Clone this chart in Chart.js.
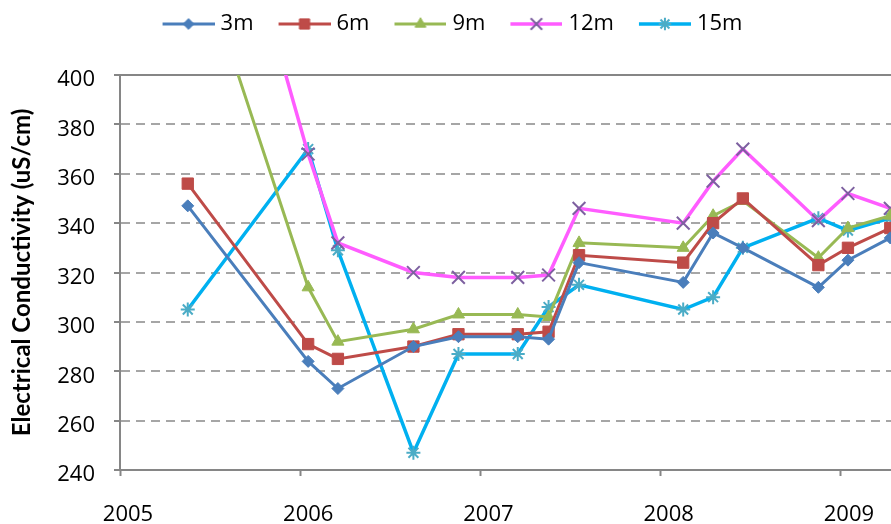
<!DOCTYPE html>
<html>
<head>
<meta charset="utf-8">
<script src="https://cdn.jsdelivr.net/npm/chart.js@4"></script>
<style>
  html, body { margin: 0; padding: 0; background: #fff; overflow: hidden; }
  #wrap { width: 891px; height: 524px; position: relative; }
</style>
</head>
<body>
<div id="wrap"><canvas id="ecChart"></canvas></div>
<script>
// sampling dates (decimal years)
const sampleYears = [2005.376, 2006.044, 2006.209, 2006.628, 2006.878, 2007.207, 2007.378,
                     2007.547, 2008.125, 2008.291, 2008.456, 2008.875, 2009.039, 2009.274];
const yearTicks = [2005, 2006, 2007, 2008, 2009];

// conductivity per depth (uS/cm); first 9m / 12m values run off the top of the plot
const ec3m  = [347, 284, 273, 290, 294, 294, 293, 324, 316, 336, 330, 314, 325, 334];
const ec6m  = [356, 291, 285, 290, 295, 295, 296, 327, 324, 340, 350, 323, 330, 338];
const ec9m  = [462, 314, 292, 297, 303, 303, 302, 332, 330, 343, 349, 326, 338, 343];
const ec12m = [540, 368, 332, 320, 318, 318, 319, 346, 340, 357, 370, 341, 352, 346];
const ec15m = [305, 370, 329, 247, 287, 287, 306, 315, 305, 310, 330, 342, 337, 342];

const seriesNames = ['3m', '6m', '9m', '12m', '15m'];

const toPoints = vals => vals.map((v, i) => ({ x: sampleYears[i], y: v }));

// line colour, marker style, marker colour, marker radius, line width
const styles = [
  { line: '#4a7ebb', mark: 'rectRot',  mcol: '#4a7ebb', r: 6,   w: 3,   fill: true },
  { line: '#be4b48', mark: 'rect',     mcol: '#be4b48', r: 8,   w: 3,   fill: true },
  { line: '#98b954', mark: 'triangle', mcol: '#98b954', r: 7,   w: 3,   fill: true },
  { line: '#ff5cff', mark: 'crossRot', mcol: '#7d60a0', r: 9,   w: 3.5, fill: false },
  { line: '#00b0f0', mark: 'star',     mcol: '#4bacc6', r: 7,   w: 3.5, fill: false }
];

const allValues = [ec3m, ec6m, ec9m, ec12m, ec15m];

const datasets = allValues.map((vals, i) => ({
  label: seriesNames[i],
  data: toPoints(vals),
  borderColor: styles[i].line,
  borderWidth: styles[i].w,
  pointStyle: styles[i].mark,
  pointRadius: styles[i].r,
  pointHoverRadius: styles[i].r,
  pointBackgroundColor: styles[i].mcol,
  pointBorderColor: styles[i].mcol,
  pointBorderWidth: styles[i].fill ? 1 : 2,
  tension: 0
}));

// legend icons: line segment with the marker in the middle
const legendIcons = styles.map(s => {
  const c = document.createElement('canvas');
  c.width = 71; c.height = 24;
  const g = c.getContext('2d');
  g.strokeStyle = s.line;
  g.lineWidth = s.w;
  g.beginPath(); g.moveTo(19, 12); g.lineTo(71, 12); g.stroke();
  g.fillStyle = s.mcol;
  g.strokeStyle = s.mcol;
  g.lineWidth = s.fill ? 1 : 2;
  Chart.helpers.drawPoint(g, { pointStyle: s.mark, radius: s.r * 0.9, rotation: 0, borderWidth: g.lineWidth }, 45, 12);
  return c;
});

const legendHeight = {
  id: 'legendHeight',
  beforeInit(chart) {
    const fit = chart.legend.fit;
    chart.legend.fit = function () { fit.call(this); this.height = 73; };
  }
};

Chart.defaults.font.family = '"Open Sans", sans-serif';
Chart.defaults.color = '#000';

new Chart(document.getElementById('ecChart').getContext('2d'), {
  type: 'line',
  data: { datasets },
  plugins: [legendHeight],
  options: {
    responsive: true,
    maintainAspectRatio: false,
    animation: false,
    layout: { padding: { top: 2, left: 0, right: 0, bottom: 0 }, autoPadding: false },
    plugins: {
      tooltip: { enabled: false },
      legend: {
        position: 'top',
        labels: {
          usePointStyle: true,
          pointStyleWidth: 61,
          padding: 11,
          font: { size: 22 },
          color: '#000',
          generateLabels(chart) {
            const items = Chart.defaults.plugins.legend.labels.generateLabels(chart);
            items.forEach((it, i) => { it.pointStyle = legendIcons[i]; });
            return items;
          }
        }
      }
    },
    scales: {
      x: {
        type: 'linear',
        min: 2005,
        max: 2009.278,
        afterBuildTicks: s => { s.ticks = yearTicks.map(v => ({ value: v })); },
        afterFit: s => { s.height = 54; s.paddingLeft = 0; s.paddingRight = 0; },
        ticks: { callback: v => String(v), font: { size: 22 }, labelOffset: 8, padding: 26, maxRotation: 0 },
        grid: { drawOnChartArea: false, drawTicks: true, tickLength: 6, tickColor: '#868686', tickWidth: 2 },
        border: { color: '#868686', width: 2 }
      },
      y: {
        min: 240,
        max: 400,
        afterFit: s => { s.width = 120; },
        ticks: { stepSize: 20, font: { size: 22 }, padding: 19, labelOffset: 5 },
        title: {
          display: true,
          text: 'Electrical Conductivity (uS/cm)',
          font: { family: 'Lato', size: 24, weight: 'bold' },
          padding: { top: 8, bottom: 0 }
        },
        grid: {
          color: c => (c.tick && c.tick.value === 400 ? '#868686' : '#a6a6a6'),
          lineWidth: 2,
          tickLength: 6,
          tickColor: '#868686',
          tickWidth: 2
        },
        border: {
          color: '#868686',
          width: 2,
          dash: c => (c.tick && c.tick.value === 400 ? [] : [9, 6])
        }
      }
    }
  }
});
</script>
</body>
</html>
